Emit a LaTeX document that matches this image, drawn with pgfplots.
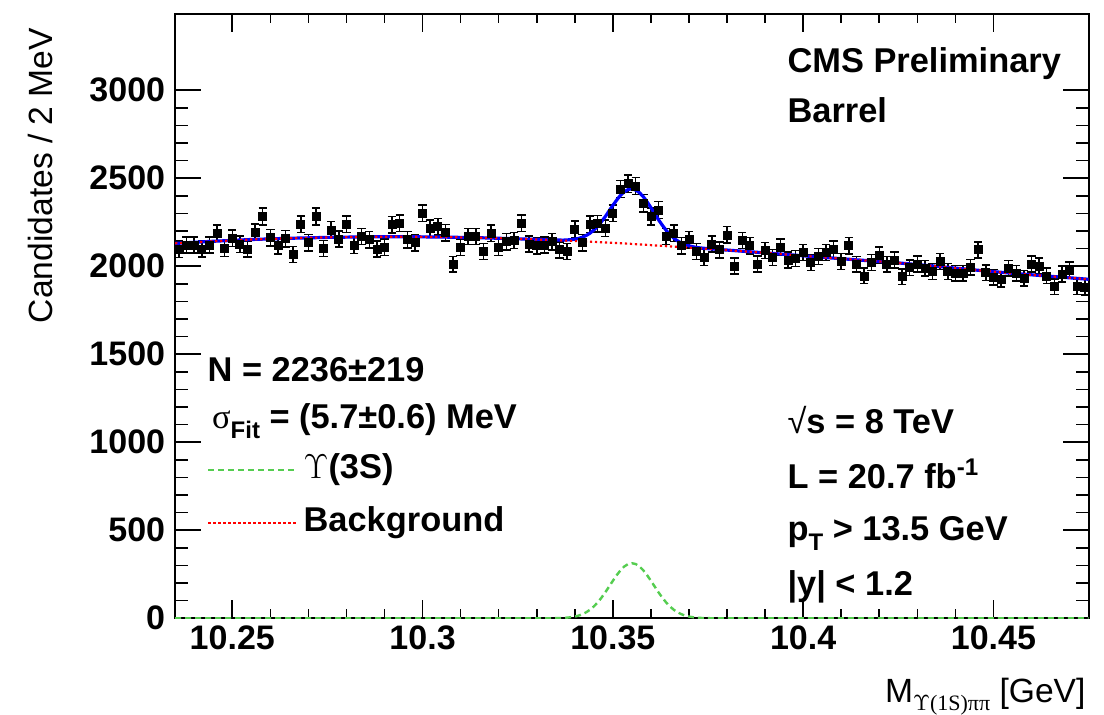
\documentclass[border=0pt]{standalone}
\usepackage{fontspec}
\setmainfont{Liberation Sans}
\newfontfamily\serif{Liberation Serif}
\usepackage{pgfplots}
\usepackage{pgfplotstable}
\pgfplotsset{compat=1.18}
\definecolor{fitgreen}{RGB}{85,205,80}
\newcommand\F{\fontsize{17.2}{20}\selectfont\bfseries}

\pgfplotstableread{
x y e
10.236 2097 45.8
10.238 2121 46.1
10.240 2121 46.1
10.242 2098 45.8
10.244 2121 46.1
10.246 2188 46.8
10.248 2100 45.8
10.250 2159 46.5
10.252 2125 46.1
10.254 2098 45.8
10.256 2193 46.8
10.258 2282 47.8
10.260 2163 46.5
10.262 2116 46.0
10.264 2157 46.4
10.266 2068 45.5
10.268 2239 47.3
10.270 2133 46.2
10.272 2282 47.8
10.274 2100 45.8
10.276 2206 47.0
10.278 2155 46.4
10.280 2239 47.3
10.282 2119 46.0
10.284 2169 46.6
10.286 2150 46.4
10.288 2098 45.8
10.290 2108 45.9
10.292 2235 47.3
10.294 2244 47.4
10.296 2150 46.4
10.298 2134 46.2
10.300 2301 48.0
10.302 2216 47.1
10.304 2225 47.2
10.306 2191 46.8
10.308 2011 44.8
10.310 2108 45.9
10.312 2169 46.6
10.314 2169 46.6
10.316 2083 45.6
10.318 2188 46.8
10.320 2106 45.9
10.322 2140 46.3
10.324 2146 46.3
10.326 2244 47.4
10.328 2127 46.1
10.330 2116 46.0
10.332 2121 46.1
10.334 2140 46.3
10.336 2093 45.7
10.338 2083 45.6
10.340 2210 47.0
10.342 2134 46.2
10.344 2239 47.3
10.346 2241 47.3
10.348 2216 47.1
10.350 2301 48.0
10.352 2439 49.4
10.354 2468 49.7
10.356 2456 49.6
10.358 2358 48.6
10.360 2282 47.8
10.362 2320 48.2
10.364 2169 46.6
10.366 2188 46.8
10.368 2116 46.0
10.370 2150 46.4
10.372 2083 45.6
10.374 2051 45.3
10.376 2127 46.1
10.378 2093 45.7
10.380 2178 46.7
10.382 2002 44.7
10.384 2146 46.3
10.386 2116 46.0
10.388 2013 44.9
10.390 2089 45.7
10.392 2051 45.3
10.394 2108 45.9
10.396 2036 45.1
10.398 2045 45.2
10.400 2078 45.6
10.402 2021 45.0
10.404 2055 45.3
10.406 2078 45.6
10.408 2097 45.8
10.410 2027 45.0
10.412 2116 46.0
10.414 2011 44.8
10.416 1945 44.1
10.418 2021 45.0
10.420 2064 45.4
10.422 2011 44.8
10.424 2036 45.1
10.426 1941 44.1
10.428 1992 44.6
10.430 2013 44.9
10.432 1989 44.6
10.434 1970 44.4
10.436 2027 45.0
10.438 1970 44.4
10.440 1960 44.3
10.442 1960 44.3
10.444 1994 44.7
10.446 2093 45.7
10.448 1964 44.3
10.450 1937 44.0
10.452 1926 43.9
10.454 1989 44.6
10.456 1960 44.3
10.458 1932 44.0
10.460 2013 44.9
10.462 2002 44.7
10.464 1945 44.1
10.466 1884 43.4
10.468 1956 44.2
10.470 1979 44.5
10.472 1884 43.4
10.474 1881 43.4
}\datatable

\pgfplotstableread{
x y
10.235 2130
10.245 2142
10.255 2152
10.265 2159
10.275 2164
10.285 2167
10.295 2168
10.305 2166
10.315 2162
10.325 2156
10.335 2148
10.345 2139
10.355 2127
10.365 2113
10.375 2099
10.385 2084
10.395 2068
10.405 2051
10.415 2035
10.425 2019
10.435 2000
10.445 1979
10.455 1960
10.465 1943
10.475 1926
}\bkgtable

\pgfplotstableread{
x y
10.235 2130
10.245 2142
10.255 2152
10.265 2159
10.275 2164
10.285 2167
10.295 2168
10.305 2166
10.315 2162
10.325 2156
10.335 2149
10.337 2148.5
10.339 2151
10.340 2154
10.341 2158
10.342 2165
10.343 2175
10.344 2188
10.345 2206
10.346 2227
10.347 2253
10.348 2282
10.349 2314
10.350 2346
10.351 2376
10.352 2403
10.353 2423
10.354 2436
10.355 2440
10.356 2433
10.357 2418
10.358 2395
10.359 2366
10.360 2333
10.361 2299
10.362 2264
10.363 2233
10.364 2204
10.365 2180
10.366 2160
10.367 2144
10.368 2132
10.369 2123
10.370 2116
10.371 2111
10.372 2107
10.373 2104
10.375 2100
10.385 2084
10.395 2068
10.405 2051
10.415 2035
10.425 2019
10.435 2000
10.445 1979
10.455 1960
10.465 1943
10.475 1926
}\totaltable

\pgfplotstableread{
x y
10.235 0
10.333 0
10.335 0.7
10.337 2.1
10.338 3.7
10.339 6.1
10.340 9.8
10.341 15.3
10.342 23.2
10.343 34.1
10.344 48.6
10.345 67.2
10.346 90.0
10.347 116.9
10.348 147.2
10.349 179.9
10.350 213.1
10.351 244.7
10.352 272.5
10.353 294.3
10.354 308.2
10.355 313.0
10.356 308.2
10.357 294.3
10.358 272.5
10.359 244.7
10.360 213.1
10.361 179.9
10.362 147.2
10.363 116.9
10.364 90.0
10.365 67.2
10.366 48.6
10.367 34.1
10.368 23.2
10.369 15.3
10.370 9.8
10.371 6.1
10.372 3.7
10.373 2.1
10.375 0.7
10.377 0
10.475 0
}\sigtable

\begin{document}
\begin{tikzpicture}
\useasboundingbox (-87.6pt,-48.35pt) rectangle (464.4pt,309.15pt);
\begin{axis}[
  at={(0,0)}, anchor=south west,
  scale only axis, width=456.7pt, height=302.3pt,
  xmin=10.235, xmax=10.475, ymin=0, ymax=3435,
  xtick={10.25,10.3,10.35,10.4,10.45},
  xticklabels={10.25,10.3,10.35,10.4,10.45},
  minor x tick num=4,
  ytick={0,500,1000,1500,2000,2500,3000},
  yticklabels={0,500,1000,1500,2000,2500,3000},
  minor y tick num=4,
  axis line style={line width=1pt},
  tick style={line width=0.8pt, black},
  major tick length=13pt, minor tick length=6.3pt,
  every major x tick/.append style={/pgfplots/major tick length=9pt},
  every minor x tick/.append style={/pgfplots/minor tick length=4.5pt},
  ticklabel style={font=\fontsize{17}{17}\selectfont\bfseries},
  yticklabel style={xshift=-1.5pt},
  /pgf/number format/assume math mode=true,
  xlabel={M{\fontsize{11}{11}\selectfont\raisebox{-4pt}{$\Upsilon${\serif(1S)ππ}}} [GeV]},
  xlabel style={at={(axis description cs:0.997,-0.139)}, anchor=base east, inner sep=0pt, font=\fontsize{16.8}{18}\selectfont},
  ylabel={Candidates / 2 MeV},
  ylabel style={at={(axis description cs:-0.147,0.977)}, anchor=east, inner sep=0pt, font=\fontsize{16.8}{18}\selectfont},
  legend style={draw=none, fill=none, at={(axis description cs:0.0351,0.2715)}, anchor=north west,
    inner sep=0pt, outer sep=0pt, row sep=10.5pt,
    nodes={inner sep=0pt, font=\F, text height=12pt, text depth=4pt},
    /tikz/every odd column/.append style={column sep=2.5pt}},
  legend cell align=left,
  legend image code/.code={\draw[#1] (0pt,0pt) -- (44.5pt,0pt);},
]
\addplot[forget plot, only marks, mark=square*, mark size=2pt, black,
  error bars/.cd, y dir=both, y explicit,
  error bar style={line width=0.75pt, black},
  error mark options={rotate=90, mark size=2.1pt, line width=0.75pt, black}]
  table[x=x, y=y, y error=e] {\datatable};
\addplot[forget plot, blue, line width=1.6pt] table[x=x,y=y] {\totaltable};
\addplot[fitgreen, line width=1.2pt, dash pattern=on 3pt off 2pt] table[x=x,y=y] {\sigtable};
\addlegendentry{{\mdseries$\Upsilon$}(3S)}
\addplot[red, line width=1.1pt, dash pattern=on 1.1pt off 1.4pt] table[x=x,y=y] {\bkgtable};
\addlegendentry{Background}

\node[anchor=base west, inner sep=0pt, font=\F] at (axis description cs:0.670,0.902) {CMS Preliminary};
\node[anchor=base west, inner sep=0pt, font=\F] at (axis description cs:0.670,0.8195) {Barrel};
\node[anchor=base west, inner sep=0pt, font=\F] at (axis description cs:0.670,0.306) {{\mdseries √}s = 8 TeV};
\node[anchor=base west, inner sep=0pt, font=\F] at (axis description cs:0.670,0.215) {L = 20.7 fb\textsuperscript{-1}};
\node[anchor=base west, inner sep=0pt, font=\F] at (axis description cs:0.670,0.129) {p\raisebox{-5pt}{\fontsize{12}{12}\selectfont T} > 13.5 GeV};
\node[anchor=base west, inner sep=0pt, font=\F] at (axis description cs:0.670,0.038) {|y| < 1.2};
\node[anchor=base west, inner sep=0pt, font=\F] at (axis description cs:0.0351,0.391) {N = 2236±219};
\node[anchor=base west, inner sep=0pt, font=\F] at (axis description cs:0.040,0.3146) {{\mdseries\serif σ}\raisebox{-5pt}{\fontsize{12}{12}\selectfont Fit} = (5.7±0.6) MeV};
\end{axis}
\end{tikzpicture}
\end{document}
